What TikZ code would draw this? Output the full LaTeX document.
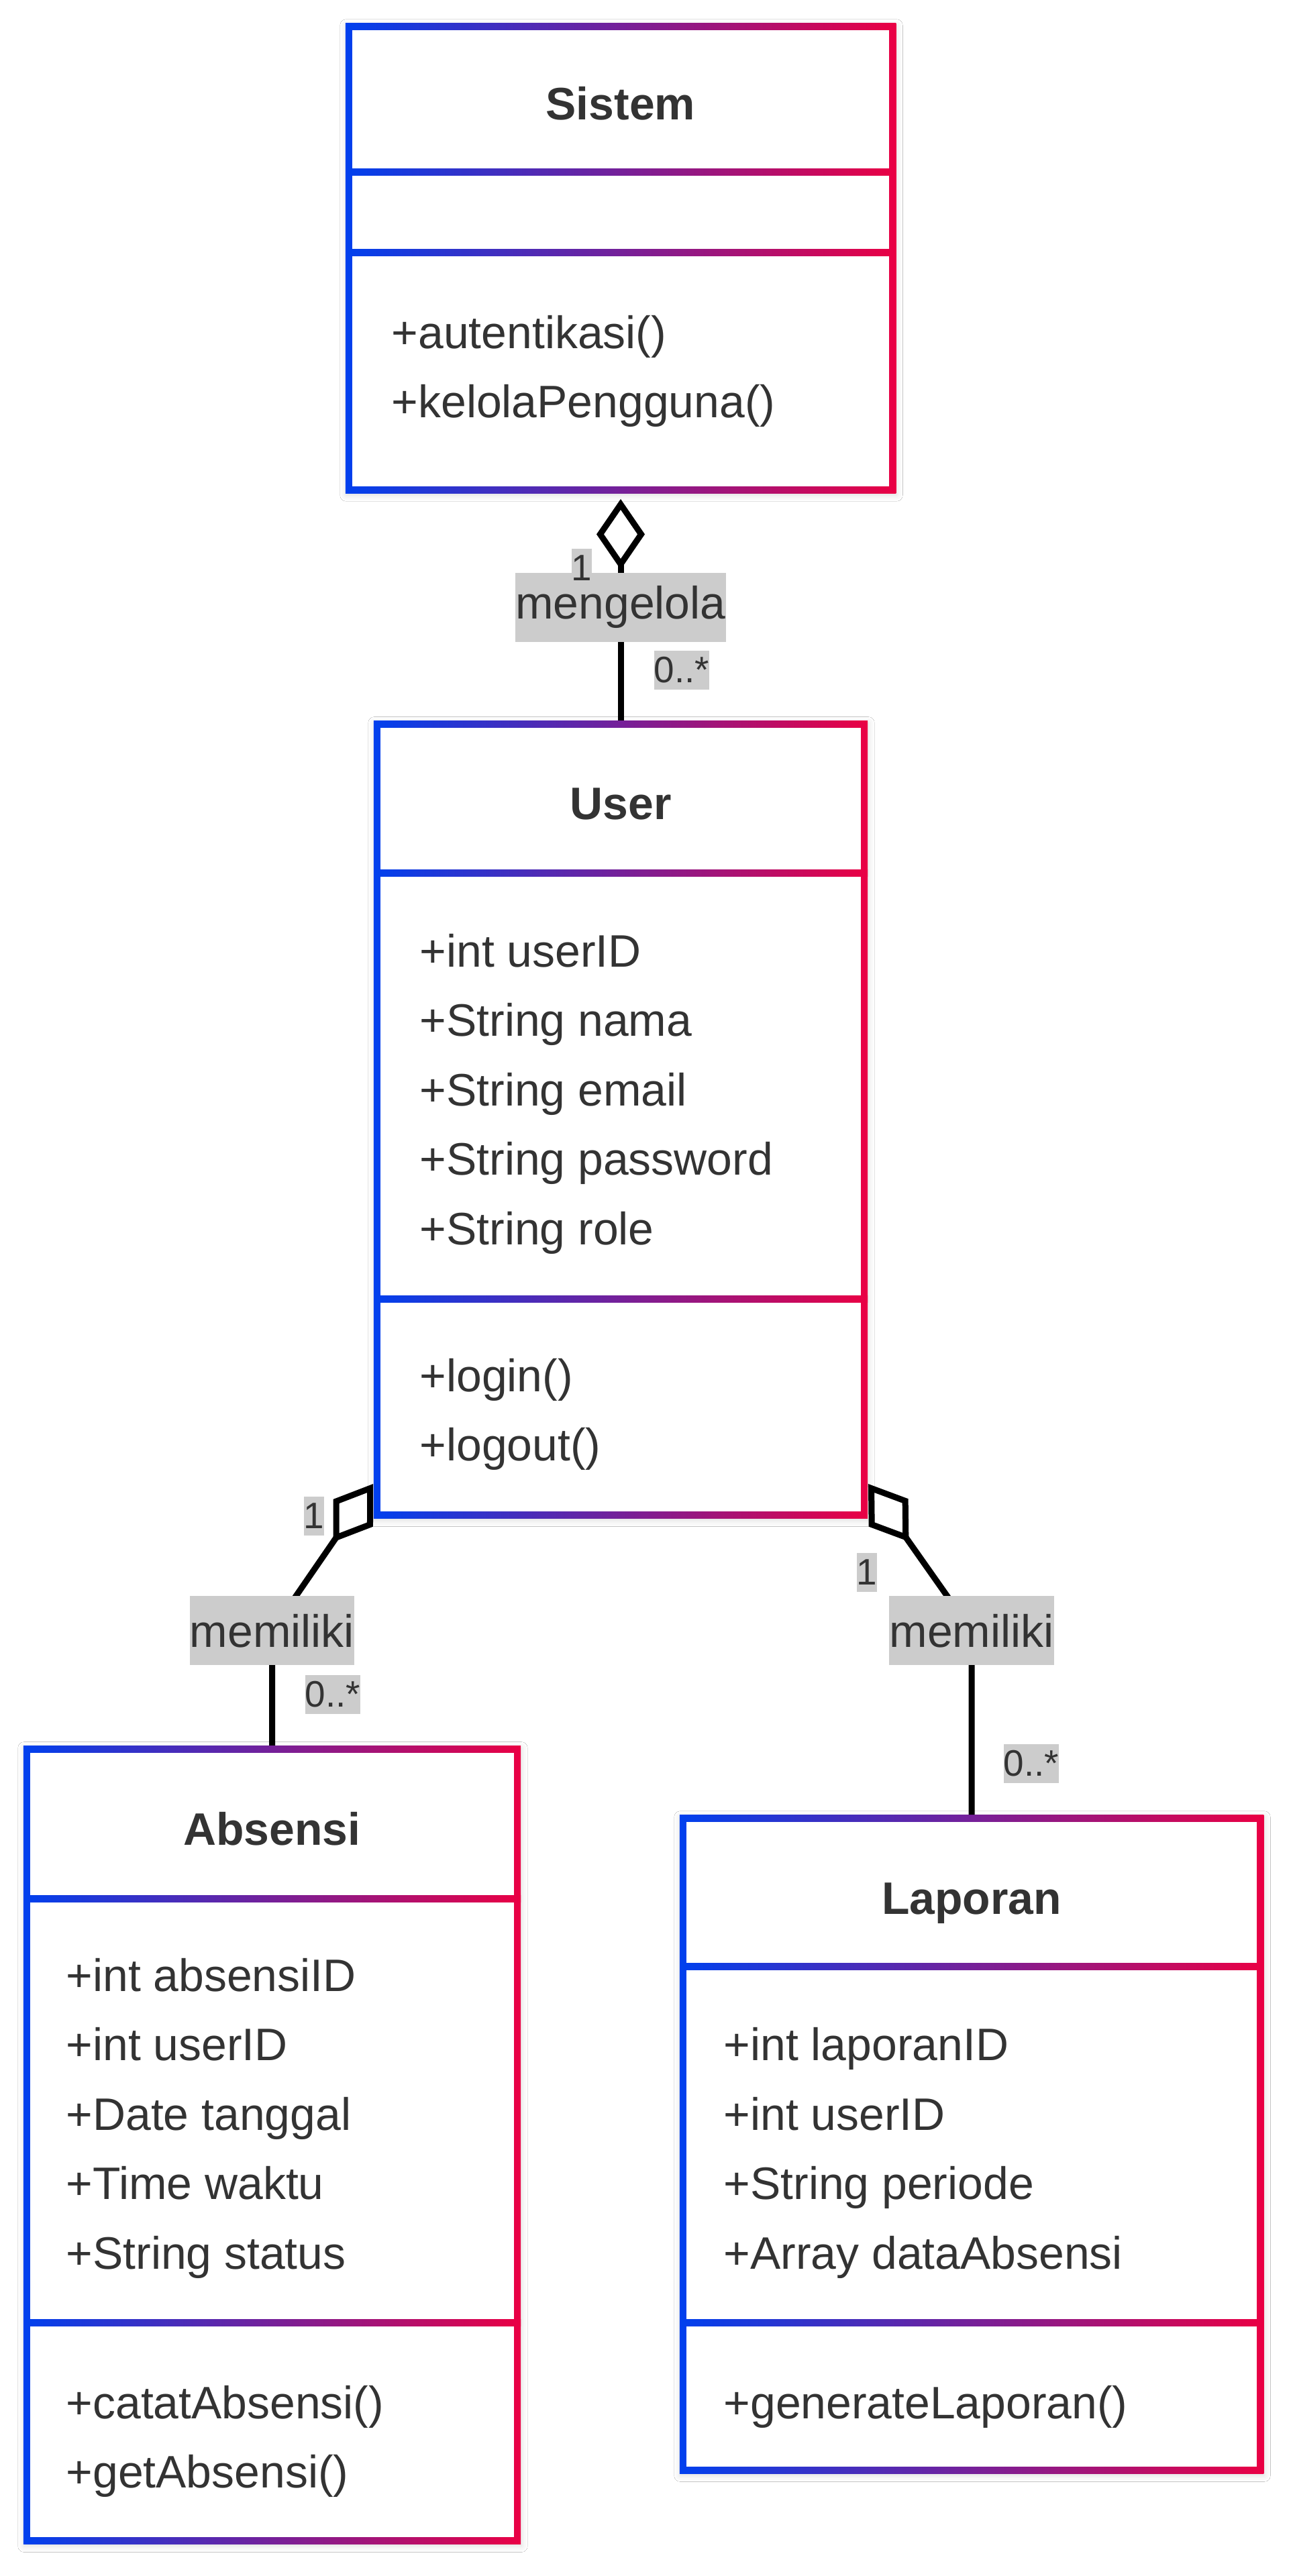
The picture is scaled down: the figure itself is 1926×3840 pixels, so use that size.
\documentclass[tikz,border=0pt]{standalone}
\usepackage{fontspec}
\setmainfont{Liberation Sans}
\usetikzlibrary{positioning, arrows.meta, shadows.blur}

\definecolor{edgeblue}{RGB}{0,64,238}
\definecolor{edgered}{RGB}{234,0,68}
\definecolor{inktext}{RGB}{51,51,51}
\definecolor{labelgray}{RGB}{204,204,204}

\begin{document}
\begin{tikzpicture}[
    x=0.01cm, y=-0.01cm,
    font=\fontsize{19.3pt}{29pt}\selectfont,
    class_box/.style={rectangle, inner sep=0, left color=edgeblue, right color=edgered,
        blur shadow={shadow xshift=0.01cm, shadow yshift=-0.03cm, shadow blur radius=0.09cm, shadow opacity=14},
        path picture={\fill[white] ([shift={(0.1cm,0.1cm)}]path picture bounding box.south west) rectangle ([shift={(-0.1cm,-0.1cm)}]path picture bounding box.north east);}},
    divider/.style={left color=edgeblue, right color=edgered},
    class_title/.style={inner sep=0, text=inktext, font=\fontsize{19.3pt}{29pt}\selectfont\bfseries},
    member/.style={anchor=base west, inner sep=0, text=inktext},
    rel_label/.style={fill=labelgray, text=inktext, inner sep=0, minimum height=1.03cm},
    mult_label/.style={fill=labelgray, text=inktext, inner sep=0, minimum height=0.58cm, font=\fontsize{15.6pt}{18pt}\selectfont},
    link/.style={line width=0.09cm, black},
    agg_link/.style={link, {Diamond[open, length=1.05cm, width=0.72cm]}-}
]

\fill[white] (0,0) rectangle (1926,3840);
\useasboundingbox (0,0) rectangle (1926,3840);

% Sistem
\node[class_box, minimum width=8.2cm, minimum height=7.0cm] (sistem) at (925,385) {};
\shade[divider] (515,252) rectangle (1335,262);
\shade[divider] (515,372) rectangle (1335,382);
\node[class_title, anchor=base] (sistem_title) at (925,179) {Sistem};
\node[member] (sistem_m1) at (583,520) {+autentikasi()};
\node[member] (sistem_m2) at (583,623) {+kelolaPengguna()};

% User
\node[class_box, minimum width=7.36cm, minimum height=11.88cm] (user) at (925,1669) {};
\shade[divider] (557,1296) rectangle (1293,1306);
\shade[divider] (557,1931) rectangle (1293,1941);
\node[class_title, anchor=base] (user_title) at (925,1221) {User};
\node[member] (user_a1) at (625,1441) {+int userID};
\node[member] (user_a2) at (625,1544.5) {+String nama};
\node[member] (user_a3) at (625,1648) {+String email};
\node[member] (user_a4) at (625,1751.5) {+String password};
\node[member] (user_a5) at (625,1855) {+String role};
\node[member] (user_m1) at (625,2074) {+login()};
\node[member] (user_m2) at (625,2177.5) {+logout()};

% Absensi
\node[class_box, minimum width=7.41cm, minimum height=11.89cm] (absensi) at (405.5,3197.5) {};
\shade[divider] (35,2825) rectangle (776,2835);
\shade[divider] (35,3457) rectangle (776,3467);
\node[class_title, anchor=base] (absensi_title) at (405.5,2750) {Absensi};
\node[member] (absensi_a1) at (98,2968) {+int absensiID};
\node[member] (absensi_a2) at (98,3071.5) {+int userID};
\node[member] (absensi_a3) at (98,3175) {+Date tanggal};
\node[member] (absensi_a4) at (98,3278.5) {+Time waktu};
\node[member] (absensi_a5) at (98,3382) {+String status};
\node[member] (absensi_m1) at (98,3605) {+catatAbsensi()};
\node[member] (absensi_m2) at (98,3708.5) {+getAbsensi()};

% Laporan
\node[class_box, minimum width=8.7cm, minimum height=9.81cm] (laporan) at (1448,3196.5) {};
\shade[divider] (1013,2926) rectangle (1883,2936);
\shade[divider] (1013,3457) rectangle (1883,3467);
\node[class_title, anchor=base] (laporan_title) at (1448,2853) {Laporan};
\node[member] (laporan_a1) at (1078,3071.5) {+int laporanID};
\node[member] (laporan_a2) at (1078,3175) {+int userID};
\node[member] (laporan_a3) at (1078,3278.5) {+String periode};
\node[member] (laporan_a4) at (1078,3382) {+Array dataAbsensi};
\node[member] (laporan_m1) at (1078,3605) {+generateLaporan()};

% Relations
\draw[agg_link] ([yshift=-0.08cm]sistem.south) -- (user.north)
    node[rel_label, pos=0.489] (rel_mengelola) {mengelola};

\coordinate[above=1.71cm of absensi.north] (bend_absensi);
\draw[agg_link] ([yshift=0.52cm]user.south west) -- (bend_absensi) -- (absensi.north);
\node[rel_label] (rel_memiliki_a) at (bend_absensi) {memiliki};

\coordinate[above=2.74cm of laporan.north] (bend_laporan);
\draw[agg_link] ([yshift=0.52cm]user.south east) -- (bend_laporan) -- (laporan.north);
\node[rel_label] (rel_memiliki_l) at (bend_laporan) {memiliki};

% Multiplicities
\node[mult_label] (mult_sistem) at (867,847) {1};
\node[mult_label] (mult_user_top) at (1016,999) {0..*};
\node[mult_label] (mult_user_left) at (468,2260) {1};
\node[mult_label] (mult_absensi) at (496,2526) {0..*};
\node[mult_label] (mult_user_right) at (1292,2344) {1};
\node[mult_label] (mult_laporan) at (1537,2629) {0..*};

\end{tikzpicture}
\end{document}
